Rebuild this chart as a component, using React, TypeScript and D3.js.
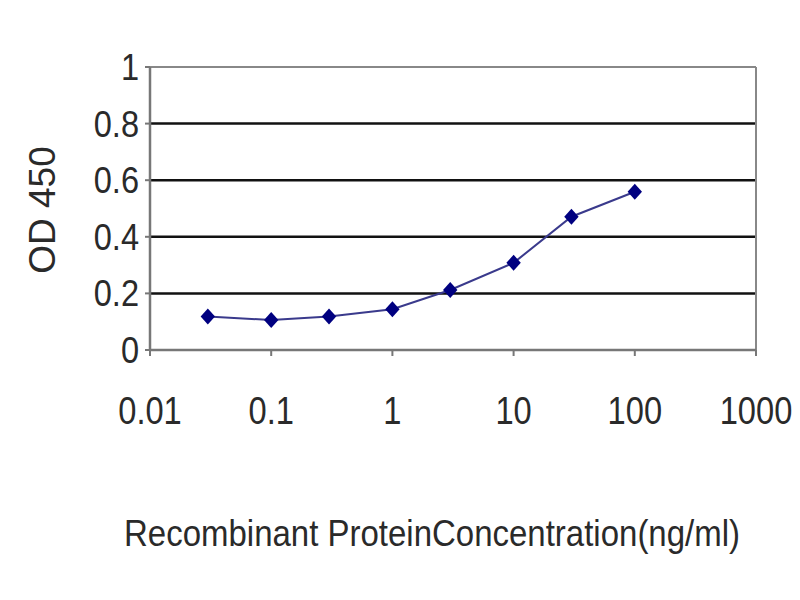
import React from "react";
import * as d3 from "d3";

const concentrations = [0.03, 0.1, 0.3, 1, 3, 10, 30, 100];
const odValues = [0.118, 0.106, 0.118, 0.144, 0.212, 0.308, 0.471, 0.559];
const xTicks = [0.01, 0.1, 1, 10, 100, 1000];
const xTickLabels = ["0.01", "0.1", "1", "10", "100", "1000"];
const yTicks = [0, 0.2, 0.4, 0.6, 0.8, 1];
const yTickLabels = ["0", "0.2", "0.4", "0.6", "0.8", "1"];

const left = 150, right = 756, top = 67, bottom = 350;

const wideDiamond = {
  draw(ctx: any, size: number) {
    const h = Math.sqrt(size) / 2;
    const w = h * 0.9;
    ctx.moveTo(0, -h);
    ctx.lineTo(w, 0);
    ctx.lineTo(0, h);
    ctx.lineTo(-w, 0);
    ctx.closePath();
  },
};

export default function App() {
  const x = d3.scaleLog().domain([0.01, 1000]).range([left, right]);
  const y = d3.scaleLinear().domain([0, 1]).range([bottom, top]);
  const line = d3
    .line<number>()
    .x((_, i) => x(concentrations[i]))
    .y((d) => y(d));
  const font = "'Liberation Sans', Arial, sans-serif";
  const diamond = d3.symbol().type(wideDiamond as any).size(256)()!;
  const textColor = "#2a2a2a";

  return (
    <svg
      width={800}
      height={600}
      style={{ position: "absolute", left: 0, top: 0, background: "#fff" }}
    >
      <rect x={0} y={0} width={800} height={600} fill="#fff" />
      {yTicks.slice(1).map((t) => (
        <line
          key={t}
          x1={left}
          x2={right}
          y1={y(t)}
          y2={y(t)}
          stroke={t === 1 ? "#888" : "#111"}
          strokeWidth={t === 1 ? 2 : 2.5}
        />
      ))}
      <line x1={right} x2={right} y1={top} y2={bottom} stroke="#888" strokeWidth={2} />
      <line x1={left} x2={left} y1={top} y2={bottom} stroke="#777" strokeWidth={2.5} />
      <line x1={left} x2={right} y1={bottom} y2={bottom} stroke="#777" strokeWidth={2.5} />
      {yTicks.map((t) => (
        <line key={"yt" + t} x1={left - 5} x2={left} y1={y(t)} y2={y(t)} stroke="#777" strokeWidth={2} />
      ))}
      {xTicks.map((t) => (
        <line key={"xt" + t} x1={x(t)} x2={x(t)} y1={bottom} y2={bottom + 6} stroke="#777" strokeWidth={2} />
      ))}
      {yTicks.map((t, i) => (
        <text
          key={"yl" + t}
          transform={`translate(139,${y(t) + 13}) scale(0.88,1)`}
          textAnchor="end"
          fontFamily={font}
          fontSize={37}
          fill={textColor}
        >
          {yTickLabels[i]}
        </text>
      ))}
      {xTicks.map((t, i) => (
        <text
          key={"xl" + t}
          transform={`translate(${x(t)},424) scale(0.86,1)`}
          textAnchor="middle"
          fontFamily={font}
          fontSize={38}
          fill={textColor}
        >
          {xTickLabels[i]}
        </text>
      ))}
      <text
        transform="translate(55,210) rotate(-90)"
        textAnchor="middle"
        fontFamily={font}
        fontSize={37}
        fill={textColor}
      >
        OD 450
      </text>
      <text
        x={124}
        y={546}
        fontFamily={font}
        fontSize={36}
        textLength={616}
        lengthAdjust="spacingAndGlyphs"
        fill={textColor}
      >
        Recombinant ProteinConcentration(ng/ml)
      </text>
      <path d={line(odValues) || ""} fill="none" stroke="#3a3a8c" strokeWidth={2} />
      {odValues.map((v, i) => (
        <path
          key={"pt" + i}
          d={diamond}
          transform={`translate(${x(concentrations[i])},${y(v)})`}
          fill="#000080"
        />
      ))}
    </svg>
  );
}
